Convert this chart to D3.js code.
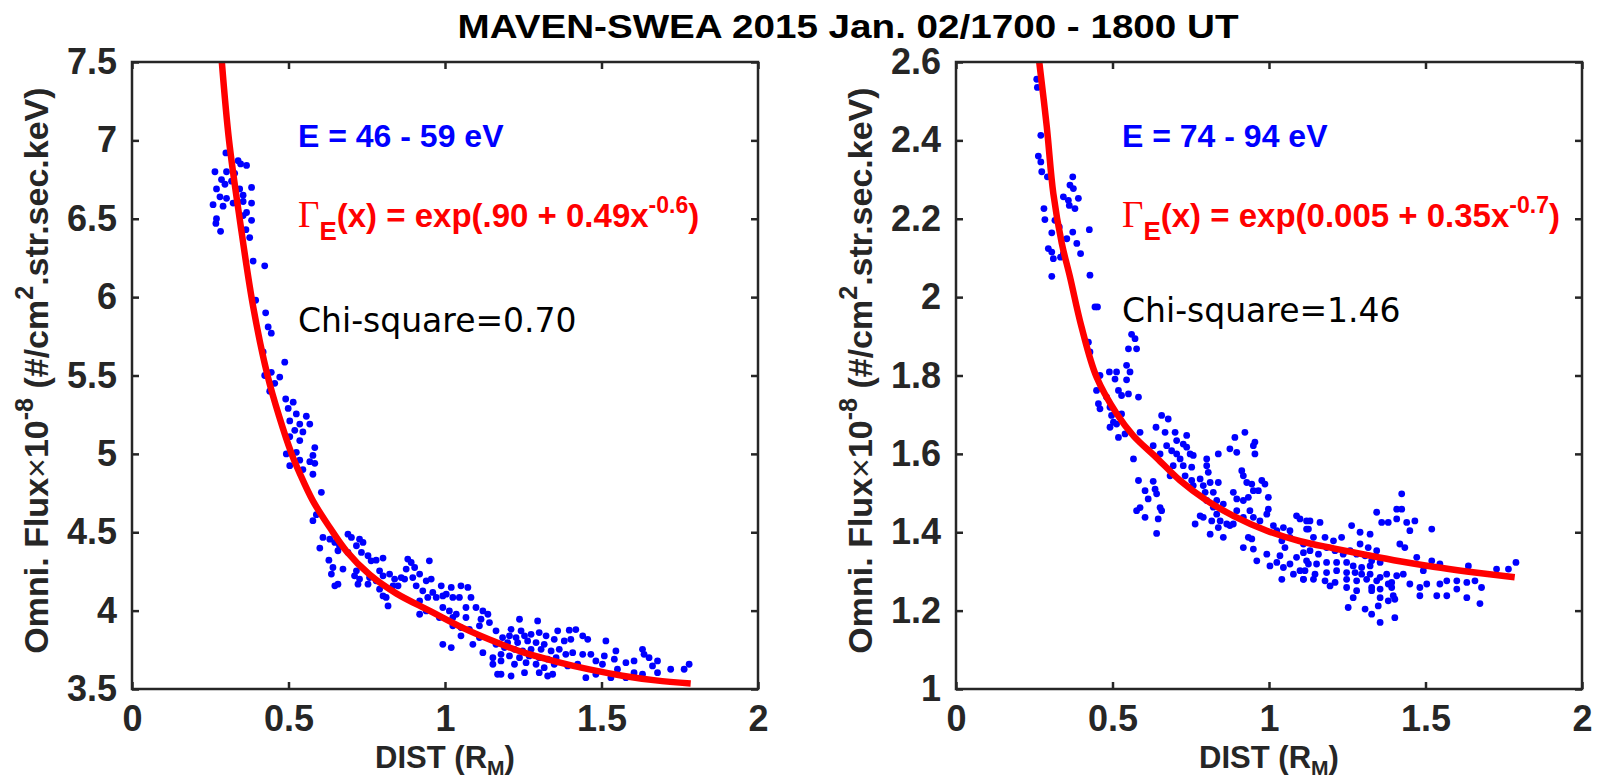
<!DOCTYPE html>
<html>
<head>
<meta charset="utf-8">
<script src="https://cdn.jsdelivr.net/npm/d3@7"></script>
<style>
  body { margin: 0; background: #fff; }
  text { font-family: "Liberation Sans", Arial, sans-serif; }
</style>
</head>
<body>
<div id="chart"></div>
<script>
// values: [DIST (R_M), flux x1e-8]
const xTicks = [0, 0.5, 1, 1.5, 2];
const leftYTicks = [3.5, 4, 4.5, 5, 5.5, 6, 6.5, 7, 7.5];
const rightYTicks = [1, 1.2, 1.4, 1.6, 1.8, 2, 2.2, 2.4, 2.6];

const leftPoints = [
  [0.30,6.92],[0.339,6.87],[0.366,6.84],[0.347,6.85],[0.265,6.80],[0.302,6.80],[0.328,6.79],[0.286,6.75],
  [0.318,6.74],[0.297,6.72],[0.382,6.70],[0.270,6.69],[0.344,6.69],[0.355,6.65],[0.281,6.64],[0.302,6.63],
  [0.259,6.59],[0.291,6.58],[0.323,6.60],[0.355,6.61],[0.382,6.60],[0.366,6.54],[0.270,6.50],[0.268,6.47],
  [0.355,6.52],[0.382,6.49],[0.283,6.42],[0.364,6.43],[0.376,6.38],[0.387,6.23],[0.424,6.20],[0.395,5.98],
  [0.427,5.90],[0.435,5.81],[0.445,5.77],[0.419,5.65],[0.488,5.585],[0.424,5.50],[0.445,5.52],[0.472,5.49],
  [0.456,5.45],[0.440,5.40],[0.491,5.35],[0.515,5.33],[0.499,5.29],[0.525,5.255],[0.557,5.24],[0.504,5.21],
  [0.536,5.19],[0.568,5.19],[0.520,5.15],[0.546,5.14],[0.504,5.11],[0.536,5.085],[0.584,5.04],[0.493,5.00],
  [0.525,5.01],[0.578,4.99],[0.536,4.96],[0.504,4.925],[0.568,4.95],[0.584,4.94],[0.546,4.90],[0.578,4.87],
  [0.605,4.755],[0.589,4.612],[0.578,4.574],[0.610,4.467],[0.632,4.456],[0.600,4.399],[0.648,4.435],[0.663,4.414],
  [0.658,4.382],[0.690,4.488],[0.701,4.467],[0.727,4.456],[0.738,4.435],[0.717,4.414],[0.690,4.371],[0.733,4.371],
  [0.754,4.350],[0.764,4.318],[0.780,4.322],[0.802,4.335],[0.629,4.322],[0.642,4.275],[0.674,4.265],[0.637,4.233],
  [0.648,4.158],[0.658,4.169],[0.717,4.254],[0.711,4.222],[0.727,4.201],[0.722,4.169],[0.759,4.211],[0.754,4.169],
  [0.780,4.190],[0.791,4.254],[0.802,4.222],[0.823,4.233],[0.839,4.201],[0.834,4.158],[0.791,4.137],[0.802,4.094],
  [0.818,4.030],[0.812,4.084],[0.850,4.158],[0.860,4.211],[0.881,4.329],[0.892,4.307],[0.903,4.275],[0.876,4.265],
  [0.871,4.201],[0.897,4.211],[0.919,4.233],[0.940,4.190],[0.950,4.318],[0.956,4.201],[0.908,4.158],[0.929,4.126],
  [0.961,4.116],[0.945,4.084],[0.972,4.084],[0.919,4.062],[0.919,3.977],[0.940,3.998],[0.988,4.158],[1.004,4.105],
  [1.020,4.148],[1.051,4.158],[1.073,4.148],[1.025,4.084],[0.993,4.094],[1.046,4.084],[1.083,4.084],[0.993,4.020],
  [1.014,3.998],[1.036,3.977],[1.067,4.020],[1.099,4.020],[1.121,3.998],[1.137,3.977],[1.115,3.945],[1.142,3.924],
  [1.110,3.903],[1.025,3.903],[1.051,3.892],[1.078,3.881],[1.051,3.839],[0.993,3.785],[1.020,3.764],[1.089,3.785],
  [1.121,3.732],[1.153,3.700],[1.110,3.828],[1.163,3.871],[1.163,3.785],[1.168,3.594],[1.153,3.658],[1.025,3.956],
  [0.982,3.956],[1.067,3.956],
  [1.238,3.945],[1.296,3.934],[1.211,3.881],[1.243,3.871],[1.184,3.828],[1.206,3.839],[1.227,3.828],[1.254,3.839],
  [1.275,3.849],[1.301,3.860],[1.323,3.839],[1.360,3.871],[1.397,3.875],[1.418,3.879],[1.200,3.796],[1.232,3.796],
  [1.264,3.807],[1.291,3.796],[1.317,3.785],[1.349,3.817],[1.381,3.807],[1.402,3.817],[1.440,3.839],[1.456,3.817],
  [1.365,3.753],[1.339,3.743],[1.307,3.753],[1.275,3.753],[1.248,3.743],[1.222,3.753],[1.190,3.764],[1.179,3.721],
  [1.206,3.711],[1.238,3.700],[1.269,3.711],[1.301,3.700],[1.328,3.690],[1.355,3.700],[1.386,3.721],[1.408,3.732],
  [1.440,3.721],[1.466,3.721],[1.514,3.807],[1.546,3.743],[1.509,3.711],[1.179,3.679],[1.222,3.658],[1.259,3.668],
  [1.291,3.658],[1.317,3.636],[1.349,3.658],[1.392,3.647],[1.424,3.658],[1.482,3.679],[1.503,3.658],[1.541,3.690],
  [1.578,3.668],[1.604,3.679],[1.631,3.753],[1.636,3.721],[1.652,3.700],[1.679,3.679],[1.663,3.647],[1.721,3.626],
  [1.764,3.626],[1.780,3.658],[1.179,3.594],[1.211,3.583],[1.254,3.604],[1.301,3.604],[1.328,3.583],[1.344,3.594],
  [1.450,3.572],[1.482,3.594],[1.530,3.572],[1.578,3.572],[1.631,3.594],[1.679,3.604],[1.551,3.626],[1.604,3.604]
];

const rightPoints = [
  [0.258,2.556],[0.260,2.535],[0.271,2.413],[0.263,2.360],[0.271,2.345],[0.274,2.320],[0.292,2.307],[0.373,2.307],
  [0.364,2.286],[0.375,2.277],[0.343,2.256],[0.359,2.247],[0.391,2.252],[0.362,2.234],[0.380,2.226],[0.281,2.226],
  [0.284,2.198],[0.316,2.196],[0.330,2.179],[0.306,2.164],[0.373,2.166],[0.426,2.172],[0.354,2.149],[0.386,2.137],
  [0.295,2.124],[0.306,2.115],[0.311,2.098],[0.343,2.111],[0.334,2.102],[0.398,2.111],[0.306,2.053],[0.428,2.056],
  [0.444,1.975],[0.452,1.975],[0.561,1.905],[0.572,1.894],[0.551,1.868],[0.577,1.868],[0.423,1.885],[0.428,1.860],
  [0.490,1.809],[0.513,1.809],[0.545,1.826],[0.556,1.809],[0.460,1.800],[0.508,1.791],[0.545,1.789],[0.449,1.762],
  [0.481,1.745],[0.519,1.762],[0.529,1.749],[0.551,1.753],[0.583,1.745],
  [0.455,1.728],[0.492,1.719],[0.497,1.698],[0.529,1.702],[0.513,1.676],[0.503,1.681],[0.540,1.651],[0.519,1.642],
  [0.492,1.668],[0.460,1.715],[0.657,1.698],[0.678,1.689],[0.639,1.668],[0.668,1.655],[0.700,1.655],[0.737,1.647],
  [0.588,1.655],[0.630,1.621],[0.673,1.621],[0.705,1.634],[0.726,1.625],[0.689,1.608],[0.705,1.600],[0.748,1.600],
  [0.758,1.596],[0.737,1.617],[0.567,1.587],[0.652,1.600],[0.716,1.587],[0.801,1.587],[0.838,1.600],[0.875,1.613],
  [0.897,1.604],[0.891,1.642],[0.923,1.655],[0.955,1.630],[0.950,1.621],[0.955,1.600],[0.694,1.570],[0.726,1.570],
  [0.753,1.566],[0.684,1.544],[0.732,1.544],[0.753,1.532],[0.780,1.536],[0.801,1.570],[0.806,1.553],[0.812,1.527],
  [0.838,1.527],[0.583,1.532],[0.630,1.530],[0.604,1.506],[0.636,1.510],[0.614,1.485],[0.641,1.498],[0.588,1.463],
  [0.577,1.455],[0.652,1.463],[0.657,1.455],[0.646,1.434],[0.604,1.438],[0.641,1.397],[0.758,1.519],[0.790,1.519],
  [0.796,1.502],[0.822,1.502],[0.833,1.481],[0.854,1.472],[0.801,1.481],[0.822,1.464],[0.833,1.446],[0.780,1.442],
  [0.790,1.438],[0.764,1.421],[0.817,1.429],[0.844,1.429],[0.865,1.421],[0.838,1.412],[0.812,1.395],[0.854,1.387],
  [0.875,1.417],[0.886,1.421],[0.913,1.557],[0.918,1.544],[0.929,1.527],[0.945,1.523],[0.966,1.506],[0.977,1.532],
  [0.987,1.523],[0.950,1.506],[0.934,1.489],[0.918,1.481],[0.897,1.485],[0.886,1.502],[0.998,1.489],[0.897,1.455],
  [0.939,1.455],[0.950,1.438],[0.971,1.429],[0.918,1.438],[0.998,1.459],[0.993,1.446],[0.934,1.387],[0.945,1.383],
  [0.918,1.361],[0.950,1.357],[0.961,1.327],[0.993,1.344],[1.014,1.417],[1.025,1.404],[1.046,1.412],[1.067,1.404],
  [1.088,1.442],[1.099,1.434],[1.041,1.378],[1.067,1.387],[1.051,1.361],[1.035,1.340],[1.025,1.323],[1.003,1.314],
  [1.046,1.310],[1.067,1.319],[1.088,1.336],[1.110,1.348],[1.120,1.429],[1.126,1.408],[1.078,1.293],[1.110,1.280],
  [1.099,1.302],[1.126,1.319],[1.041,1.280],
  [1.131,1.429],[1.163,1.425],[1.120,1.408],[1.142,1.387],[1.179,1.387],[1.206,1.378],[1.232,1.387],[1.264,1.417],
  [1.291,1.400],[1.323,1.395],[1.344,1.451],[1.360,1.425],[1.381,1.425],[1.408,1.459],[1.424,1.459],[1.424,1.498],
  [1.408,1.434],[1.440,1.425],[1.466,1.429],[1.450,1.404],[1.418,1.370],[1.434,1.361],[1.291,1.370],[1.317,1.361],
  [1.344,1.353],[1.110,1.370],[1.131,1.353],[1.158,1.344],[1.184,1.361],[1.211,1.353],[1.237,1.344],[1.259,1.353],
  [1.280,1.344],[1.307,1.340],[1.328,1.327],[1.355,1.323],[1.120,1.327],[1.152,1.319],[1.184,1.323],[1.216,1.323],
  [1.248,1.323],[1.269,1.314],[1.296,1.310],[1.323,1.314],[1.115,1.302],[1.147,1.293],[1.184,1.297],[1.216,1.302],
  [1.248,1.297],[1.275,1.297],[1.296,1.293],[1.323,1.293],[1.355,1.285],[1.376,1.293],[1.408,1.289],[1.429,1.293],
  [1.472,1.336],[1.493,1.302],[1.520,1.327],[1.546,1.319],[1.520,1.408],[1.110,1.280],[1.142,1.280],[1.179,1.276],
  [1.211,1.272],[1.248,1.280],[1.280,1.276],[1.312,1.280],[1.344,1.276],[1.381,1.268],[1.195,1.263],[1.248,1.259],
  [1.280,1.251],[1.328,1.259],[1.355,1.255],[1.392,1.259],[1.450,1.268],[1.482,1.259],[1.504,1.268],[1.546,1.268],
  [1.568,1.276],[1.600,1.276],[1.632,1.272],[1.658,1.276],[1.679,1.259],[1.637,1.314],[1.727,1.306],[1.765,1.306],
  [1.789,1.323],[1.600,1.255],[1.568,1.238],[1.632,1.233],[1.536,1.238],[1.482,1.238],[1.397,1.238],[1.355,1.233],
  [1.328,1.251],[1.269,1.233],[1.253,1.208],[1.307,1.204],[1.328,1.191],[1.349,1.212],[1.355,1.170],[1.402,1.182],
  [1.381,1.225],[1.402,1.229],[1.674,1.218],[1.392,1.272]
];

// fitted curves
const leftFit = [
  [0.287,7.5],[0.31,7.0],[0.344,6.5],[0.387,5.94],[0.433,5.5],[0.47,5.24],[0.51,5.0],[0.535,4.88],
  [0.578,4.70],[0.632,4.53],[0.685,4.38],[0.759,4.23],[0.844,4.11],[0.95,4.0],[1.057,3.89],[1.174,3.79],
  [1.248,3.735],[1.355,3.675],[1.461,3.625],[1.567,3.585],[1.673,3.555],[1.785,3.535]
];
const rightFit = [
  [0.266,2.6],[0.29,2.435],[0.311,2.264],[0.338,2.137],[0.364,2.052],[0.401,1.924],[0.449,1.796],[0.513,1.703],
  [0.567,1.646],[0.641,1.59],[0.716,1.532],[0.801,1.481],[0.886,1.442],[0.993,1.404],[1.10,1.377],[1.206,1.359],
  [1.312,1.342],[1.418,1.326],[1.525,1.312],[1.632,1.300],[1.785,1.285]
];

const panels = [
  { id: 'l', left: 132, yDomain: [3.5, 7.5], yTicks: leftYTicks, points: leftPoints, fit: leftFit,
    energy: 'E = 46 - 59 eV', a: '.90', b: '0.49', p: '-0.6', chi: 'Chi-square=0.70', chiY: 332 },
  { id: 'r', left: 956, yDomain: [1, 2.6], yTicks: rightYTicks, points: rightPoints, fit: rightFit,
    energy: 'E = 74 - 94 eV', a: '0.005', b: '0.35', p: '-0.7', chi: 'Chi-square=1.46', chiY: 322 }
];

const width = 1603, height = 781;
const plotW = 626, plotTop = 62, plotBottom = 689;
const axisColor = '#262626';

const svg = d3.select('#chart').append('svg')
  .attr('width', width).attr('height', height);

// title
svg.append('text')
  .attr('x', 848).attr('y', 38)
  .attr('text-anchor', 'middle')
  .attr('textLength', 781).attr('lengthAdjust', 'spacingAndGlyphs')
  .style('font-size', '34px').style('font-weight', 'bold')
  .text('MAVEN-SWEA 2015 Jan. 02/1700 - 1800 UT');

panels.forEach(pn => {
  const x = d3.scaleLinear().domain([0, 2]).range([pn.left, pn.left + plotW]);
  const y = d3.scaleLinear().domain(pn.yDomain).range([plotBottom, plotTop]);

  svg.append('clipPath').attr('id', 'clip-' + pn.id)
    .append('rect').attr('x', pn.left).attr('y', plotTop).attr('width', plotW).attr('height', plotBottom - plotTop);

  const g = svg.append('g').attr('clip-path', `url(#clip-${pn.id})`);

  // scatter
  g.selectAll('circle')
    .data(pn.points)
    .enter()
    .append('circle')
    .attr('cx', d => x(d[0]))
    .attr('cy', d => y(d[1]))
    .attr('r', 3.4)
    .attr('fill', '#0000ff');

  // fit
  g.append('path')
    .datum(pn.fit)
    .attr('fill', 'none')
    .attr('stroke', '#ff0000')
    .attr('stroke-width', 6.5)
    .attr('d', d3.line().x(d => x(d[0])).y(d => y(d[1])).curve(d3.curveCatmullRom.alpha(0.5)));

  // axes, ticks inside on all sides
  const fmt = d => String(+d.toFixed(2));
  const ax = [
    svg.append('g').attr('transform', `translate(0,${plotBottom})`)
      .call(d3.axisBottom(x).tickValues(xTicks).tickFormat(fmt).tickSizeInner(-7).tickSizeOuter(0).tickPadding(16)),
    svg.append('g').attr('transform', `translate(0,${plotTop})`)
      .call(d3.axisTop(x).tickValues(xTicks).tickFormat('').tickSizeInner(-7).tickSizeOuter(0)),
    svg.append('g').attr('transform', `translate(${pn.left},0)`)
      .call(d3.axisLeft(y).tickValues(pn.yTicks).tickFormat(fmt).tickSizeInner(-7).tickSizeOuter(0).tickPadding(15)),
    svg.append('g').attr('transform', `translate(${pn.left + plotW},0)`)
      .call(d3.axisRight(y).tickValues(pn.yTicks).tickFormat('').tickSizeInner(-7).tickSizeOuter(0))
  ];
  ax.forEach(a => {
    a.select('.domain').remove();
    a.selectAll('line').attr('stroke', axisColor).attr('stroke-width', 2.5);
    a.selectAll('text')
      .attr('fill', axisColor)
      .style('font-size', '36px')
      .style('font-weight', 'bold')
      .style('font-family', '"Liberation Sans", Arial, sans-serif');
  });
  svg.append('rect')
    .attr('x', pn.left).attr('y', plotTop).attr('width', plotW).attr('height', plotBottom - plotTop)
    .attr('fill', 'none').attr('stroke', axisColor).attr('stroke-width', 2.5);

  // x label
  const xl = svg.append('text')
    .attr('x', pn.left + plotW / 2).attr('y', 768)
    .attr('text-anchor', 'middle').attr('fill', axisColor)
    .style('font-size', '31px').style('font-weight', 'bold');
  xl.append('tspan').text('DIST (R');
  xl.append('tspan').attr('dy', 7).style('font-size', '21px').text('M');
  xl.append('tspan').attr('dy', -7).text(')');

  // y label
  const yl = svg.append('text')
    .attr('transform', `translate(${pn.left - 84},${(plotTop + plotBottom) / 2 - 5}) rotate(-90)`)
    .attr('text-anchor', 'middle').attr('fill', axisColor)
    .style('font-size', '34px').style('font-weight', 'bold');
  yl.append('tspan').text('Omni. Flux');
  yl.append('tspan').style('font-weight', 'normal').text('\u00d7');
  yl.append('tspan').text('10');
  yl.append('tspan').attr('dy', -15).style('font-size', '25px').text('-8');
  yl.append('tspan').attr('dy', 15).text(' (#/cm');
  yl.append('tspan').attr('dy', -15).style('font-size', '25px').text('2');
  yl.append('tspan').attr('dy', 15).text('.str.sec.keV)');

  // annotations
  const tx = pn.left + 166;
  svg.append('text')
    .attr('x', tx).attr('y', 147)
    .attr('fill', '#0000ff')
    .style('font-size', '32px').style('font-weight', 'bold')
    .text(pn.energy);

  const f = svg.append('text')
    .attr('x', tx).attr('y', 227)
    .attr('fill', '#ff0000')
    .style('font-size', '33px').style('font-weight', 'bold');
  f.append('tspan').style('font-family', '"Liberation Serif", serif').style('font-weight', 'normal')
    .style('font-size', '37px').text('\u0393');
  f.append('tspan').attr('dy', 13).style('font-size', '26px').text('E');
  f.append('tspan').attr('dy', -13).text(`(x) = exp(${pn.a} + ${pn.b}x`);
  f.append('tspan').attr('dy', -14).style('font-size', '23px').text(pn.p);
  f.append('tspan').attr('dy', 14).text(')');

  svg.append('text')
    .attr('x', tx).attr('y', pn.chiY)
    .attr('fill', '#000')
    .style('font-family', '"DejaVu Sans", sans-serif')
    .style('font-size', '33px')
    .text(pn.chi);
});
</script>
</body>
</html>
